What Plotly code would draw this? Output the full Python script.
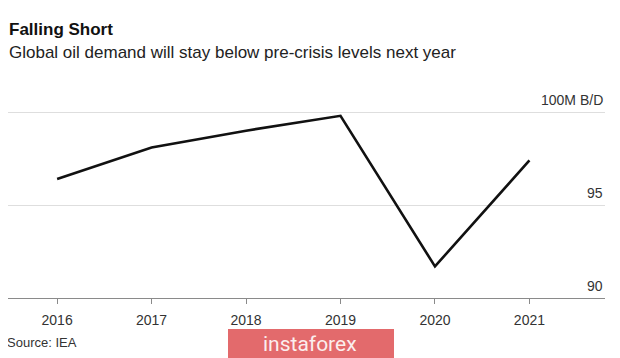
import plotly.graph_objects as go

years = [2016, 2017, 2018, 2019, 2020, 2021]
demand = [96.4, 98.1, 99.0, 99.8, 91.7, 97.4]
y_ticks = [90, 95, 100]
y_tick_labels = ["90", "95", "100M B/D"]
x_tick_labels = ["2016", "2017", "2018", "2019", "2020", "2021"]

# page body has an 8px margin; figure sized/offset to compensate
OFF = 8
W, H = 620 - OFF, 358 - OFF
ML, MR, MT, MB = 0, 15, 92, 60
PW, PH = W - ML - MR, H - MT - MB
font = "Liberation Sans, Arial, Helvetica, sans-serif"


def px(p):
    return (p - OFF - ML) / PW


def py(p):
    return (H - MB - (p - OFF)) / PH


fig = go.Figure()
fig.add_trace(go.Scatter(x=years, y=demand, mode="lines",
                         line=dict(color="#111111", width=2.6),
                         hoverinfo="skip"))

for v, lab in zip(y_ticks, y_tick_labels):
    fig.add_annotation(x=1.0, xref="paper", y=v, yref="y",
                       text=lab, showarrow=False, xanchor="right",
                       yanchor="bottom", yshift=2,
                       font=dict(family=font, size=14, color="#333333"))

fig.add_annotation(x=0, xref="paper", y=py(30), yref="paper", text="<b>Falling Short</b>",
                   showarrow=False, xanchor="left", yanchor="middle", xshift=-1,
                   font=dict(family=font, size=17, color="#111111"))
fig.add_annotation(x=0, xref="paper", y=py(52), yref="paper",
                   text="Global oil demand will stay below pre-crisis levels next year",
                   showarrow=False, xanchor="left", yanchor="middle", xshift=-1,
                   font=dict(family=font, size=17, color="#222222"))
fig.add_annotation(x=0, xref="paper", y=py(342), yref="paper", text="Source: IEA",
                   showarrow=False, xanchor="left", yanchor="middle", xshift=-3,
                   font=dict(family=font, size=13, color="#333333"))

# watermark
fig.add_shape(type="rect", xref="paper", yref="paper",
              x0=px(228), x1=px(394), y0=py(358), y1=py(329),
              fillcolor="#e36a6c", line=dict(width=0), layer="above")
fig.add_annotation(x=px(310), xref="paper", y=py(344), yref="paper",
                   text="instaforex", showarrow=False, xanchor="center", yanchor="middle",
                   font=dict(family="Liberation Sans Narrow, Roboto, sans-serif", size=21,
                             color="#fbeeee"))

fig.update_layout(
    width=W, height=H,
    margin=dict(l=ML, r=MR, t=MT, b=MB),
    paper_bgcolor="white", plot_bgcolor="white",
    showlegend=False,
    xaxis=dict(range=[2015.48, 2021.8], tickvals=years, ticktext=x_tick_labels,
               showgrid=False, zeroline=False, showline=True, linecolor="#8a8a8a",
               linewidth=1.2, ticks="outside", ticklen=5, tickcolor="#8a8a8a",
               ticklabelstandoff=4,
               tickfont=dict(family=font, size=14, color="#333333")),
    yaxis=dict(range=[90, 100.65], tickvals=[95, 100], showticklabels=False,
               showgrid=True, gridcolor="#dedede", gridwidth=1.2,
               zeroline=False, showline=False),
)

fig.write_html("out.html")
